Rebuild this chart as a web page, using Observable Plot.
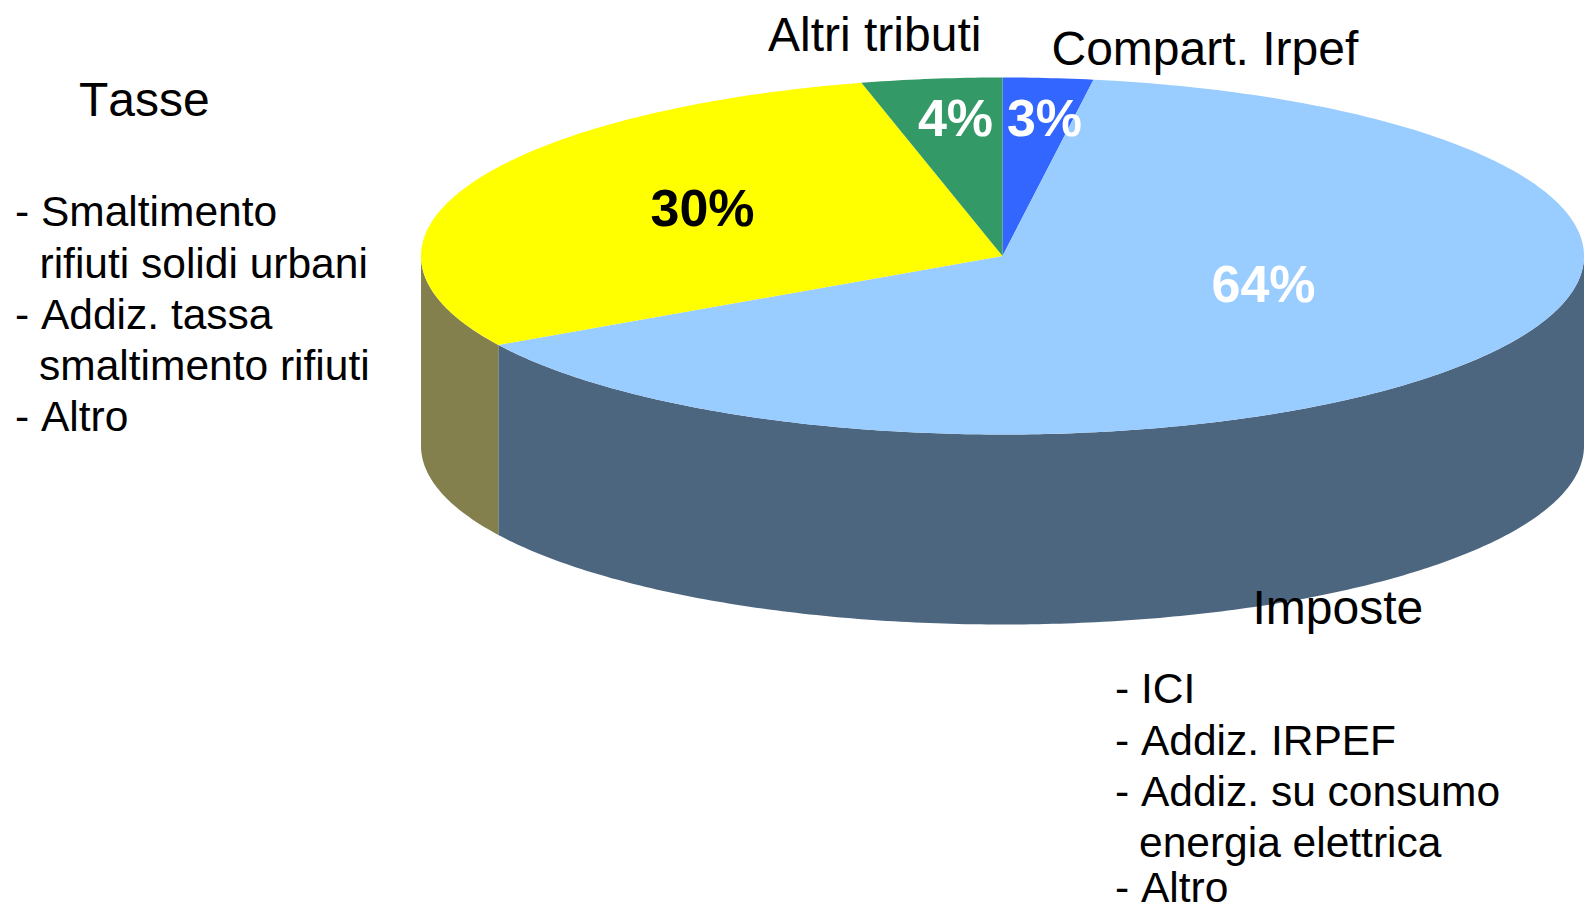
<!DOCTYPE html>
<html>
<head>
<meta charset="utf-8">
<script src="https://cdn.jsdelivr.net/npm/d3@7"></script>
<script src="https://cdn.jsdelivr.net/npm/@observablehq/plot@0.6"></script>
<style>html,body{margin:0;padding:0;background:#fff;overflow:hidden}svg{display:block}svg text{font-kerning:none}</style>
</head>
<body>
<div id="chart"></div>
<script>
// Data, clockwise from the top of the pie
const categories = ["Compart. Irpef", "Imposte", "Tasse", "Altri tributi"];
const shares = [2.5, 64.2, 29.4, 3.9];
const percentLabels = ["3%", "64%", "30%", "4%"];
const tasseLines = ["- Smaltimento", "rifiuti solidi urbani", "- Addiz. tassa", "smaltimento rifiuti", "- Altro"];
const imposteLines = ["- ICI", "- Addiz. IRPEF", "- Addiz. su consumo", "energia elettrica", "- Altro"];

// Styles
const topColors = ["#3366FF", "#99CCFF", "#FFFF00", "#339966"];
const wallColors = {"Imposte": "#4D6680", "Tasse": "#83804D"};

// Layout of the tilted disc
const W = 1587, H = 910;
const cx = 1002, cy = 255.5, rx = 581.5, ry = 178.5, depth = 190;
const font = "Liberation Sans, Arial, sans-serif";
const at = (a, d = 0) => ({x: cx + rx * Math.sin(a), y: cy - ry * Math.cos(a) + d});
const arcPts = (a0, a1, d = 0) => {
  const n = Math.max(2, Math.ceil(Math.abs(a1 - a0) * 80));
  return d3.range(n + 1).map(i => at(a0 + (a1 - a0) * i / n, d));
};

const arcs = d3.pie().sort(null).startAngle(0).endAngle(2 * Math.PI)(shares);

// Top faces
const slices = arcs.flatMap((s, i) =>
  [{x: cx, y: cy}, ...arcPts(s.startAngle, s.endAngle)].map(p => ({...p, key: categories[i]})));

// Visible side walls: front half of the rim only
const wallOf = (name, a0, a1) =>
  [...arcPts(a0, a1), ...arcPts(a1, a0, depth)].map(p => ({...p, key: name + " (lato)"}));
const imposteArc = arcs[categories.indexOf("Imposte")];
const tasseArc = arcs[categories.indexOf("Tasse")];
const walls = [
  ...wallOf("Imposte", Math.PI / 2, imposteArc.endAngle),
  ...wallOf("Tasse", tasseArc.startAngle, 1.5 * Math.PI)
];

// Text placement
const pctPos = [[1044, 119], [1263, 285], [702, 209], [955, 119]];
const catPos = [[1051, 49], [1252, 608], [78.5, 100], [767.5, 35]];
const tassePos = [[14.5, 212], [39, 264], [14.5, 315], [38.5, 365.5], [14.5, 417]];
const impostePos = [[1114.5, 689], [1114.5, 741], [1114.5, 792], [1138.5, 843], [1114.5, 888]];

const pctData = percentLabels.map((t, i) => ({t, x: pctPos[i][0], y: pctPos[i][1], dark: t === "30%"}));
const catData = categories.map((t, i) => ({t, x: catPos[i][0], y: catPos[i][1]}));
const lineData = [
  ...tasseLines.map((t, i) => ({t, x: tassePos[i][0], y: tassePos[i][1]})),
  ...imposteLines.map((t, i) => ({t, x: impostePos[i][0], y: impostePos[i][1]}))
];

const chart = Plot.plot({
  width: W, height: H,
  marginTop: 0, marginRight: 0, marginBottom: 0, marginLeft: 0,
  x: {domain: [0, W], range: [0, W], axis: null},
  y: {domain: [0, H], range: [0, H], axis: null},
  color: {
    domain: [...categories, "Imposte (lato)", "Tasse (lato)"],
    range: [...topColors, wallColors["Imposte"], wallColors["Tasse"]]
  },
  style: {background: "#fff", fontFamily: font},
  marks: [
    Plot.line(walls, {x: "x", y: "y", z: "key", fill: "key", stroke: null}),
    Plot.line(slices, {x: "x", y: "y", z: "key", fill: "key", stroke: null}),
    Plot.text(catData, {x: "x", y: "y", text: "t", textAnchor: "start", fontSize: 48, fill: "#000", fontFamily: font}),
    Plot.text(lineData, {x: "x", y: "y", text: "t", textAnchor: "start", fontSize: 42.5, fill: "#000", fontFamily: font}),
    Plot.text(pctData, {x: "x", y: "y", text: "t", textAnchor: "middle", fontSize: 52, fontWeight: "bold",
      fill: d => d.dark ? "#000" : "#fff", fontFamily: font})
  ]
});
document.getElementById("chart").appendChild(chart);
</script>
</body>
</html>
